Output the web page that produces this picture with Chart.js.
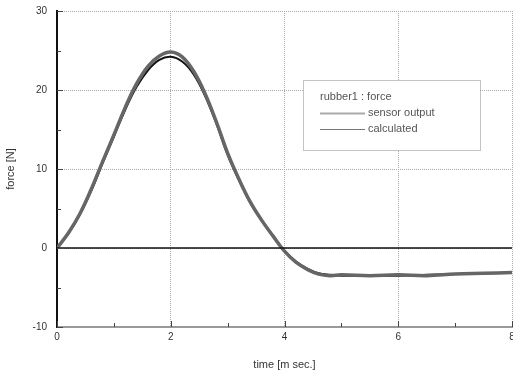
<!DOCTYPE html>
<html>
<head>
<meta charset="utf-8">
<script src="https://cdn.jsdelivr.net/npm/chart.js@4/dist/chart.umd.min.js"></script>
<style>
    html, body { margin: 0; padding: 0; background: #fff; }
    #wrap { width: 513px; height: 376px; position: relative; }
</style>
</head>
<body>
<div id="wrap"><canvas id="forceChart"></canvas></div>
<script>
// time axis [msec]
const timeMs = [0, 0.2, 0.4, 0.6, 0.8, 1.0, 1.2, 1.4, 1.6, 1.8, 2.0, 2.2, 2.4, 2.6, 2.8, 3.0,
    3.2, 3.4, 3.6, 3.8, 4.0, 4.2, 4.4, 4.6, 4.8, 5.0, 5.5, 6.0, 6.5, 7.0, 7.5, 8.0];

// force [N]
const sensorOutput = [0, 1.9, 4.3, 7.4, 10.9, 14.3, 17.8, 20.8, 23.0, 24.3, 24.8, 24.2, 22.4, 19.6, 16.0, 12.0,
    8.7, 5.8, 3.5, 1.5, -0.4, -1.8, -2.7, -3.3, -3.5, -3.4, -3.5, -3.4, -3.5, -3.3, -3.2, -3.1];
const calculated = [0, 1.8, 4.2, 7.2, 10.7, 14.1, 17.5, 20.4, 22.5, 23.8, 24.2, 23.6, 22.0, 19.3, 15.8, 11.8,
    8.6, 5.7, 3.5, 1.5, -0.4, -1.7, -2.6, -3.2, -3.4, -3.5, -3.5, -3.5, -3.4, -3.3, -3.2, -3.1];

const zeroLineX = [0, 8];
const zeroLineY = [0, 0];

const xTicks = [0, 2, 4, 6, 8];
const yTicks = [-10, 0, 10, 20, 30];
const xMinorTicks = [1, 3, 5, 7];
const yMinorTicks = [-5, 5, 15, 25];

const legendTitle = 'rubber1 : force';
const xTitle = 'time [m sec.]';
const yTitle = 'force [N]';

function toPoints(xs, ys) {
    return xs.map((x, i) => ({ x: x, y: ys[i] }));
}

// minor tick marks drawn inside the plot frame
const minorTicks = {
    id: 'minorTicks',
    afterDatasetsDraw(chart) {
        const { ctx, chartArea, scales } = chart;
        ctx.save();
        ctx.strokeStyle = '#444';
        ctx.lineWidth = 1;
        ctx.beginPath();
        for (const v of xMinorTicks) {
            const px = Math.round(scales.x.getPixelForValue(v)) + 0.5;
            ctx.moveTo(px, chartArea.bottom);
            ctx.lineTo(px, chartArea.bottom - 4);
        }
        for (const v of xTicks) {
            const px = Math.round(scales.x.getPixelForValue(v)) + 0.5;
            ctx.moveTo(px, chartArea.bottom);
            ctx.lineTo(px, chartArea.bottom - 6);
        }
        for (const v of yMinorTicks) {
            const py = Math.round(scales.y.getPixelForValue(v)) + 0.5;
            ctx.moveTo(chartArea.left, py);
            ctx.lineTo(chartArea.left + 4, py);
        }
        for (const v of yTicks) {
            const py = Math.round(scales.y.getPixelForValue(v)) + 0.5;
            ctx.moveTo(chartArea.left, py);
            ctx.lineTo(chartArea.left + 6, py);
        }
        ctx.stroke();
        ctx.restore();
    }
};

// boxed legend inside the plot, like the original figure
const boxLegend = {
    id: 'boxLegend',
    afterDraw(chart) {
        const { ctx, chartArea } = chart;
        const x0 = chartArea.left + 246;
        const y0 = chartArea.top + 69;
        const w = 177;
        const h = 70;
        ctx.save();
        ctx.fillStyle = '#fff';
        ctx.fillRect(x0, y0, w, h);
        ctx.strokeStyle = '#888';
        ctx.lineWidth = 1;
        ctx.setLineDash([1, 1]);
        ctx.strokeRect(x0 + 0.5, y0 + 0.5, w, h);
        ctx.setLineDash([]);
        ctx.font = '11px "Liberation Sans", Arial, sans-serif';
        ctx.fillStyle = '#555';
        ctx.textBaseline = 'middle';
        ctx.fillText(legendTitle, x0 + 17, y0 + 17);
        const entries = chart.data.datasets.filter(d => d.inLegend);
        entries.forEach((ds, i) => {
            const ly = y0 + 33 + i * 16;
            ctx.strokeStyle = ds.legendColor;
            ctx.lineWidth = ds.legendWidth;
            ctx.beginPath();
            ctx.moveTo(x0 + 17, ly + 0.5);
            ctx.lineTo(x0 + 62, ly + 0.5);
            ctx.stroke();
            ctx.fillText(ds.label, x0 + 65, ly);
        });
        ctx.restore();
    }
};

const axisFont = { family: '"Liberation Sans", Arial, sans-serif', size: 10 };

new Chart(document.getElementById('forceChart'), {
    type: 'line',
    data: {
        datasets: [
            {
                label: 'zero',
                data: toPoints(zeroLineX, zeroLineY),
                borderColor: '#111',
                borderWidth: 1.5,
                pointRadius: 0,
                inLegend: false
            },
            {
                label: 'sensor output',
                data: toPoints(timeMs, sensorOutput),
                borderColor: '#666',
                borderWidth: 3.5,
                pointRadius: 0,
                tension: 0.4,
                inLegend: true,
                legendColor: '#aaa',
                legendWidth: 2
            },
            {
                label: 'calculated',
                data: toPoints(timeMs, calculated),
                borderColor: '#111',
                borderWidth: 2,
                pointRadius: 0,
                tension: 0.4,
                inLegend: true,
                legendColor: '#777',
                legendWidth: 1
            }
        ]
    },
    options: {
        responsive: true,
        maintainAspectRatio: false,
        animation: false,
        layout: { padding: { left: 0, right: 1, top: 11, bottom: 0 } },
        plugins: {
            legend: { display: false },
            tooltip: { enabled: false }
        },
        scales: {
            x: {
                type: 'linear',
                min: 0,
                max: 8,
                afterBuildTicks: scale => { scale.ticks = xTicks.map(v => ({ value: v })); },
                afterFit: scale => { scale.height = 49; scale.paddingRight = 0; },
                ticks: { color: '#333', font: axisFont, padding: 4 },
                grid: { color: '#aaa', lineWidth: 1, drawTicks: false },
                border: { color: '#999', width: 2, dash: [1, 1] },
                title: { display: true, text: xTitle, color: '#333', font: { family: axisFont.family, size: 11 }, padding: { top: 14 } }
            },
            y: {
                min: -10,
                max: 30,
                afterBuildTicks: scale => { scale.ticks = yTicks.map(v => ({ value: v })); },
                afterFit: scale => { scale.width = 57; scale.paddingTop = 0; scale.paddingBottom = 0; },
                ticks: { color: '#333', font: axisFont, padding: 10 },
                grid: { color: '#aaa', lineWidth: 1, drawTicks: false },
                border: { color: '#111', width: 2, dash: [1, 1] },
                title: { display: true, text: yTitle, color: '#333', font: { family: axisFont.family, size: 11 }, padding: { bottom: 8 } }
            }
        }
    },
    plugins: [minorTicks, boxLegend]
});
</script>
</body>
</html>
